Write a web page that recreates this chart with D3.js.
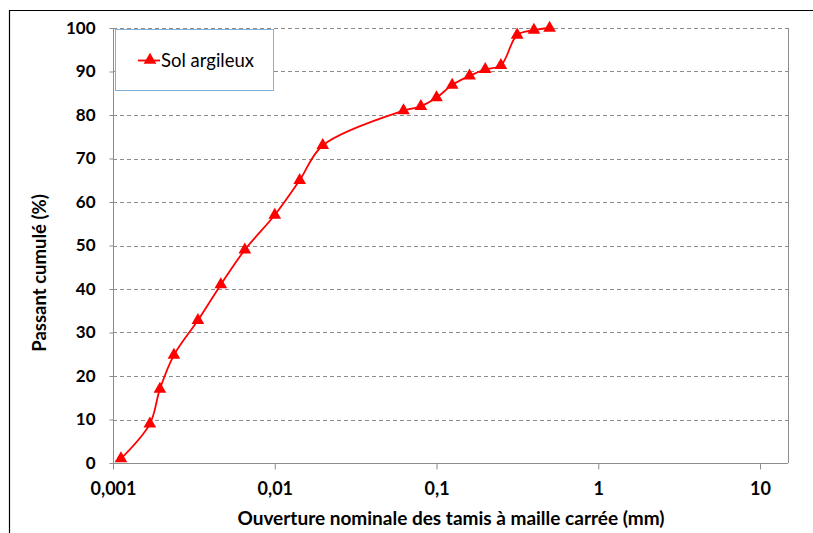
<!DOCTYPE html>
<html><head><meta charset="utf-8">
<script src="https://cdn.jsdelivr.net/npm/d3@7"></script>
<style>
body{margin:0;background:#fff;}
svg{display:block;}
</style></head><body>
<svg id="c" width="813" height="533"></svg>
<script>
const seriesName = "Sol argileux";
const sieveSizes = [0.00112, 0.00169, 0.00195, 0.00238, 0.00335, 0.00464, 0.00653, 0.01, 0.01426, 0.0198, 0.0625, 0.08, 0.1, 0.125, 0.16, 0.2, 0.25, 0.315, 0.4, 0.5];
const passing = [1, 9, 17, 24.8, 32.8, 41, 49, 57, 65, 73, 81, 82, 84, 86.9, 89, 90.5, 91.4, 98.4, 99.5, 100];
const xTicks = [0.001, 0.01, 0.1, 1, 10];
const xTickLabels = ["0,001", "0,01", "0,1", "1", "10"];
const yTicks = [0, 10, 20, 30, 40, 50, 60, 70, 80, 90, 100];
const xTitle = "Ouverture nominale des tamis à maille carrée (mm)";
const yTitle = "Passant cumulé (%)";

const svg = d3.select("#c");
const L = 113, R = 788, T = 28, B = 463;
const x = d3.scaleLog().domain([0.001, Math.pow(10, 1 + 28/162)]).range([L, R]);
const y = d3.scaleLinear().domain([0, 100]).range([B, T]);
const font = "Lato, 'Open Sans', sans-serif";

// outer frame
svg.append("path").attr("d", "M9.5,533 V10.5 H813").attr("fill","none").attr("stroke","#000").attr("stroke-width",1.2);

// gridlines
svg.append("g").selectAll("line").data(yTicks.filter(d=>d>0)).join("line")
  .attr("x1", L).attr("x2", R).attr("y1", d=>Math.round(y(d))+0.5).attr("y2", d=>Math.round(y(d))+0.5)
  .attr("stroke","#8c8c8c").attr("stroke-dasharray","4,3").attr("stroke-width",1);

// right border
svg.append("line").attr("x1",R+0.5).attr("x2",R+0.5).attr("y1",T).attr("y2",B).attr("stroke","#8c8c8c");

// x axis
const xAxis = d3.axisBottom(x).tickValues(xTicks).tickFormat((d,i)=>xTickLabels[i]).tickSize(6).tickPadding(13);
const gx = svg.append("g").attr("transform",`translate(0,${B+0.5})`).call(xAxis);
gx.select(".domain").attr("stroke","#8c8c8c").attr("d",`M${L},0H${R}`);
gx.selectAll(".tick line").attr("stroke","#8c8c8c");
gx.selectAll("text").attr("font-family",font).attr("font-weight","bold").attr("font-size","18px").attr("fill","#000");

// y axis
const yAxis = d3.axisLeft(y).tickValues(yTicks).tickSize(4).tickPadding(14);
const gy = svg.append("g").attr("transform",`translate(${L+0.5},0)`).call(yAxis);
gy.select(".domain").attr("stroke","#8c8c8c").attr("d",`M0,${T}V${B}`);
gy.selectAll(".tick line").attr("stroke","#8c8c8c");
gy.selectAll("text").attr("font-family",font).attr("font-weight","bold").attr("font-size","17px").attr("fill","#000");

// titles
svg.append("text").attr("x",451).attr("y",525).attr("text-anchor","middle")
  .attr("font-family",font).attr("font-weight","bold").attr("font-size","19px").text(xTitle);
svg.append("text").attr("transform","translate(46,273) rotate(-90)").attr("text-anchor","middle")
  .attr("font-family",font).attr("font-weight","bold").attr("font-size","18.5px").text(yTitle);

// data
const data = sieveSizes.map((s,i)=>({s, p: passing[i]}));
const line = d3.line().x(d=>x(d.s)).y(d=>y(d.p)).curve(d3.curveCatmullRom.alpha(0.5));
svg.append("path").datum(data).attr("d", line).attr("fill","none").attr("stroke","#ff0000").attr("stroke-width",1.8);

const tri = d3.symbol().type(d3.symbolTriangle).size(70);
svg.append("g").selectAll("path").data(data).join("path")
  .attr("d", tri).attr("transform", d=>`translate(${x(d.s)},${y(d.p)})`).attr("fill","#ff0000");

// legend
const lg = svg.append("g");
lg.append("rect").attr("x",115.5).attr("y",29.5).attr("width",158).attr("height",61)
  .attr("fill","#fff").attr("stroke","#7fb1d9").attr("stroke-width",1);
lg.append("line").attr("x1",138).attr("x2",160).attr("y1",60.5).attr("y2",60.5).attr("stroke","#ff0000").attr("stroke-width",1.8);
lg.append("path").attr("d", tri).attr("transform","translate(150,60)").attr("fill","#ff0000");
lg.append("text").attr("x",161).attr("y",67).attr("font-family",font).attr("font-size","18.5px").attr("fill","#000").text(seriesName);
</script>
</body></html>
